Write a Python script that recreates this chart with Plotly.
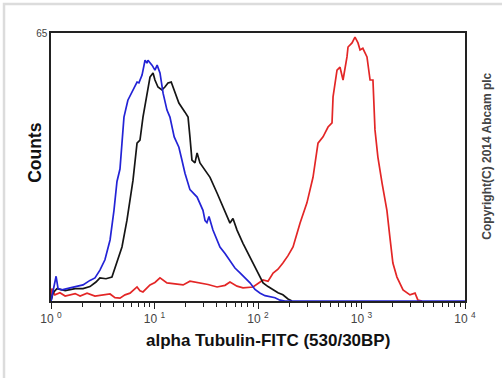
import plotly.graph_objects as go

# Fluorescence intensity (log scale) and counts
blue_x = [1.0, 1.05, 1.12, 1.17, 1.28, 1.53, 1.74, 2.04, 2.38, 2.66, 2.97, 3.32, 3.72, 4.06, 4.34, 4.64,
          4.85, 5.07, 5.53, 6.20, 6.78, 7.07, 7.58, 8.10, 8.46, 8.65, 9.46, 10.1, 10.6, 11.3, 12.1, 13.2,
          14.1, 15.5, 17.2, 18.4, 19.7, 22.0, 25.8, 29.4, 30.8, 32.1, 33.6, 36.7, 42.9, 48.0, 53.6, 59.9,
          67.0, 74.9, 83.7, 93.5, 105, 117, 131, 146, 163, 182, 10000]
blue_y = [0, 3, 6, 3, 2.7, 3.2, 3.5, 3.9, 5, 5.6, 7.5, 10, 14.8, 22, 29, 32,
          38.3, 44.6, 48.7, 51.2, 53.1, 52.9, 54.8, 58.4, 57.7, 58.4, 57.2, 56, 57.2, 55.3, 50.4, 46.3,
          44.6, 39.8, 37.3, 34.2, 31, 27, 25.2, 22, 19.5, 19, 20.5, 17.2, 13.1, 11.5, 9.9, 8,
          6.8, 5.5, 4.4, 2.8, 1.9, 1.3, 1, 0.8, 0.2, 0, 0]

black_x = [1.0, 1.05, 1.14, 1.37, 1.71, 2.04, 2.38, 2.72, 2.97, 3.40, 3.88, 4.34, 4.85, 5.42, 5.80, 6.20,
           6.78, 7.24, 7.74, 8.46, 9.05, 9.68, 10.1, 10.8, 11.8, 12.6, 13.5, 14.5, 15.8, 17.2, 19.7, 21.1,
           22.0, 23.0, 24.6, 25.8, 27.5, 29.4, 32.1, 34.4, 40.2, 45.9, 53.6, 57.3, 62.7, 71.6, 83.7, 97.8,
           112, 125, 140, 156, 174, 195, 213]
black_y = [0, 2, 3, 2.5, 3, 3, 3.5, 4.6, 5.6, 5.4, 5.8, 9.2, 13.1, 19.6, 24, 29.3,
           38.3, 39, 44.6, 50.4, 54.3, 55.3, 53.6, 51.9, 51.2, 51.9, 52.9, 53.1, 50.4, 48, 45.8, 44.6,
           39.8, 34.2, 33.5, 35.9, 33.5, 32.5, 31, 30, 26.2, 22.8, 18.9, 20, 17.2, 14, 10.7, 7.5,
           4.4, 3.5, 2.7, 2, 1.5, 0.5, 0]

red_x = [1.0, 1.02, 1.09, 1.22, 1.37, 1.53, 1.71, 1.91, 2.23, 2.66, 3.18, 3.72, 4.15, 4.64, 5.19, 5.80,
         6.78, 7.24, 7.74, 9.05, 10.1, 11.3, 13.2, 15.8, 18.9, 22.0, 27.5, 32.9, 40.2, 48.0, 53.6, 62.7,
         71.6, 89.5, 112, 125, 140, 156, 174, 195, 218, 255, 297, 340, 380, 425, 475, 519, 531, 580,
         620, 663, 724, 741, 810, 865, 925, 968, 1030, 1130, 1210, 1290, 1350, 1440, 1580, 1760, 1880,
         2010, 2200, 2520, 2940, 3290, 3510, 3840]
red_y = [0, 3, 1.5, 2, 1.2, 1.5, 1.8, 1.2, 1.9, 1.2, 1.5, 1.7, 0.8, 0.7, 1.5, 1.9,
         3.4, 2.5, 2.2, 3.9, 4.5, 5.6, 4.4, 4.2, 3.9, 4.8, 4.4, 4.0, 3.4, 3.8, 4.6, 3.6,
         3.2, 3.4, 5.1, 4.8, 6.8, 7.7, 9.2, 11, 13.1, 18.9, 23.8, 30, 38.3, 39.8, 42.2, 43.2, 49.5, 56,
         56.7, 53.6, 59.2, 61.6, 62.6, 64, 62.6, 60.9, 61.3, 59.2, 53.6, 53.6, 41.5, 34.9, 28.6, 22, 15.5,
         9.2, 5.8, 2.7, 1.5, 1.9, 0.2, 0]

x_tickvals = [1, 10, 100, 1000, 10000]
x_ticktext = ["10 <sup>0</sup>", "10 <sup>1</sup>", "10 <sup>2</sup>", "10 <sup>3</sup>", "10 <sup>4</sup>"]
minor_vals = [m * d for d in [1, 10, 100, 1000] for m in range(2, 10)]

FONT = "Liberation Sans, Arial, sans-serif"

fig = go.Figure()
fig.add_trace(go.Scatter(x=red_x, y=red_y, mode="lines", line=dict(color="#e32626", width=1.7)))
fig.add_trace(go.Scatter(x=black_x, y=black_y, mode="lines", line=dict(color="#151515", width=1.7)))
fig.add_trace(go.Scatter(x=blue_x, y=blue_y, mode="lines", line=dict(color="#2323d6", width=1.7)))

fig.update_layout(
    width=502, height=378,
    margin=dict(l=51, r=37, t=33, b=77),
    paper_bgcolor="white", plot_bgcolor="white",
    showlegend=False,
    font=dict(family=FONT, color="#333"),
    xaxis=dict(
        type="log", range=[0, 4],
        tickmode="array", tickvals=x_tickvals, ticktext=x_ticktext,
        ticks="outside", ticklen=6, tickwidth=1, tickcolor="#222",
        minor=dict(tickmode="array", tickvals=minor_vals, ticks="outside", ticklen=4,
                   tickcolor="#222", tickwidth=1, showgrid=False),
        showline=True, linecolor="#222", linewidth=1.5, mirror=True,
        showgrid=False, zeroline=False,
        tickfont=dict(size=12, color="#444"),
    ),
    yaxis=dict(
        range=[0, 65], tickmode="array", tickvals=[65], ticktext=["65"],
        ticks="", showline=True, linecolor="#222", linewidth=1.5, mirror=True,
        showgrid=False, zeroline=False,
        tickfont=dict(size=10, color="#444"),
    ),
    shapes=[
        dict(type="rect", xref="paper", yref="paper", x0=-0.1135, x1=1.2, y0=-0.5, y1=1.108,
             line=dict(color="#dcdcdc", width=2.5), fillcolor="rgba(0,0,0,0)", layer="below"),
    ],
    annotations=[
        dict(text="<b>Counts</b>", xref="paper", yref="paper", x=-0.039, y=0.556,
             xanchor="center", yanchor="middle", textangle=-90, showarrow=False,
             font=dict(size=17.5, color="#111", family=FONT)),
        dict(text="<b>alpha Tubulin-FITC (530/30BP)</b>", xref="paper", yref="paper",
             x=0.524, y=-0.146, xanchor="center", yanchor="middle", showarrow=False,
             font=dict(size=17, color="#111", family=FONT)),
        dict(text="<b>Copyright(C) 2014 Abcam plc</b>", xref="paper", yref="paper",
             x=1.054, y=0.54, xanchor="center", yanchor="middle", textangle=-90, showarrow=False,
             font=dict(size=12, color="#444", family=FONT)),
    ],
)

fig.write_html("out.html")
